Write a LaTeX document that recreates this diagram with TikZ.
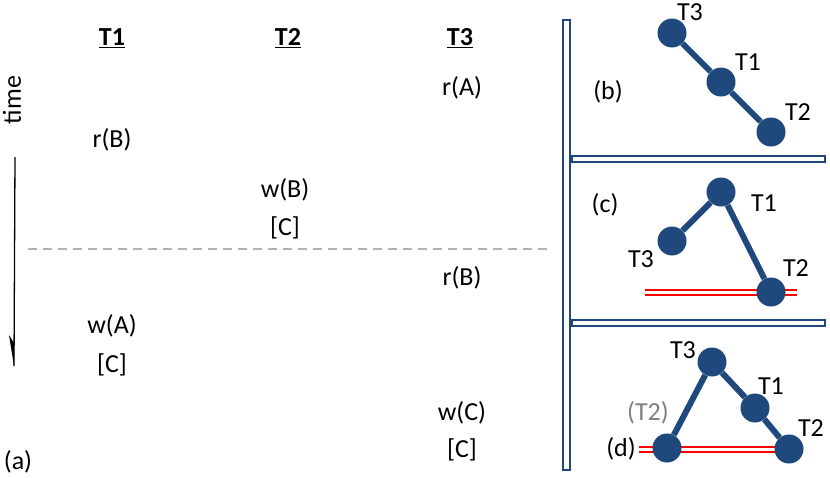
\documentclass[tikz,border=0pt]{standalone}
\usepackage{fontspec}
\setmainfont{Carlito}
\definecolor{nb}{RGB}{31,73,125}
\begin{document}
\begin{tikzpicture}[x=1pt,y=-1pt,
  txt/.style={font=\fontsize{26}{28}\selectfont,inner sep=0pt},
  hd/.style={font=\fontsize{26}{28}\selectfont\bfseries,inner sep=0pt},
  dot/.style={circle,fill=nb,minimum size=29pt,inner sep=0pt},
  edge/.style={nb,line width=6pt},
  bar/.style={draw=nb,fill=white,line width=2.8pt},
  red2/.style={red,line width=1.6pt}]
\useasboundingbox (0,0) rectangle (830,477);
% left part
\node[hd] (h1) at (112,38) {\underline{T1}};
\node[hd] (h2) at (288,38) {\underline{T2}};
\node[hd] (h3) at (460,38) {\underline{T3}};
\node[txt] (a1) at (462,88) {r(A)};
\node[txt] (a2) at (112,140) {r(B)};
\node[txt] (a3) at (285,190) {w(B)};
\node[txt] (a4) at (285,228) {[C]};
\node[txt] (a5) at (462,278) {r(B)};
\node[txt] (a6) at (112,326) {w(A)};
\node[txt] (a7) at (112,365) {[C]};
\node[txt] (a8) at (462,413) {w(C)};
\node[txt] (a9) at (462,450) {[C]};
\node[txt] (la) at (18,462) {(a)};
\node[txt,rotate=90] (tm) at (12,100) {time};
\coordinate (ts) at (15,157);
\coordinate (te) at (14,366);
\draw[line width=1.3pt] (ts) -- (te);
\fill (te) -- (9,335) -- (14,343) -- cycle;
\coordinate (d1) at (28,249); \coordinate (d2) at (552,249);
\draw[gray!60,line width=1.3pt,dash pattern=on 9pt off 6pt] (d1) -- (d2);
% frame
\draw[bar] (572,156) rectangle (825,162);
\draw[bar] (572,320) rectangle (825,326);
\draw[bar] (563,20) rectangle (570,470);
% (b)
\node[txt] at (608,92) {(b)};
\node[dot] (b3) at (672,33) {};
\node[dot] (b1) at (721,82) {};
\node[dot] (b2) at (771,132) {};
\draw[edge] (b3) -- (b1) -- (b2);
\node[txt] at (690,12) {T3};
\node[txt] at (748,62) {T1};
\node[txt] at (798,112) {T2};
% (c)
\node[txt] at (605,205) {(c)};
\draw[red2] (645,290) -- (797,290);
\draw[red2] (645,295) -- (797,295);
\node[dot] (c1) at (721,192) {};
\node[dot] (c3) at (672,241) {};
\node[dot] (c2) at (771,292) {};
\draw[edge] (c3) -- (c1) -- (c2);
\node[txt] at (764,203) {T1};
\node[txt] at (641,259) {T3};
\node[txt] at (796,268) {T2};
% (d)
\node[txt] at (621,449) {(d)};
\draw[red2] (639,447) -- (797,447);
\draw[red2] (639,452) -- (797,452);
\node[dot] (d3) at (712,362) {};
\node[dot] (dd1) at (755,408) {};
\node[dot] (dd2) at (789,449) {};
\node[dot] (dl) at (667,448) {};
\draw[edge] (dl) -- (d3) -- (dd1) -- (dd2);
\node[txt] at (683,350) {T3};
\node[txt] at (771,386) {T1};
\node[txt] at (811,428) {T2};
\node[txt,gray] at (648,413) {(T2)};
\end{tikzpicture}
\end{document}
